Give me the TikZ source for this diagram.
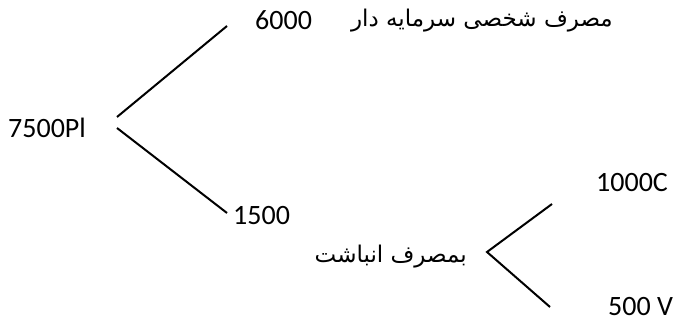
\documentclass[tikz,border=0pt]{standalone}
\usepackage{fontspec}
\setmainfont{Carlito}
\newfontfamily\arabicfont[Script=Arabic]{DejaVu Sans}
\TeXXeTstate=1
\begin{document}
\begin{tikzpicture}[x=1pt,y=-1pt,
  lab/.style={inner sep=0pt,font=\fontsize{28}{28}\selectfont},
  fa/.style={inner sep=0pt,font=\arabicfont\fontsize{23}{23}\selectfont},
  branch/.style={line width=2pt}]
\useasboundingbox (0,0) rectangle (679,320);
\node[lab,anchor=base west] (pl) at (8,138) {7500Pl};
\node[lab,anchor=base west] (n6000) at (255,30) {6000};
\node[fa,anchor=base east] (cons) at (613,27) {\beginR مصرف شخصی سرمایه دار\endR};
\node[lab,anchor=base west] (n1500) at (233,225) {1500};
\node[fa,anchor=base east] (acc) at (467,262) {\beginR بمصرف انباشت\endR};
\node[lab,anchor=base west] (c) at (596,192) {1000C};
\node[lab,anchor=base west] (v) at (608,315) {500 V};
\coordinate (a1) at (117,117);
\coordinate (b1) at (227,26);
\coordinate (a2) at (117,128);
\coordinate (b2) at (227,213);
\coordinate (ap) at (487,252);
\coordinate (cu) at (552,204);
\coordinate (cl) at (550,307);
\draw[branch] (a1) -- (b1);
\draw[branch] (a2) -- (b2);
\draw[branch] (cu) -- (ap) -- (cl);
\end{tikzpicture}
\end{document}
